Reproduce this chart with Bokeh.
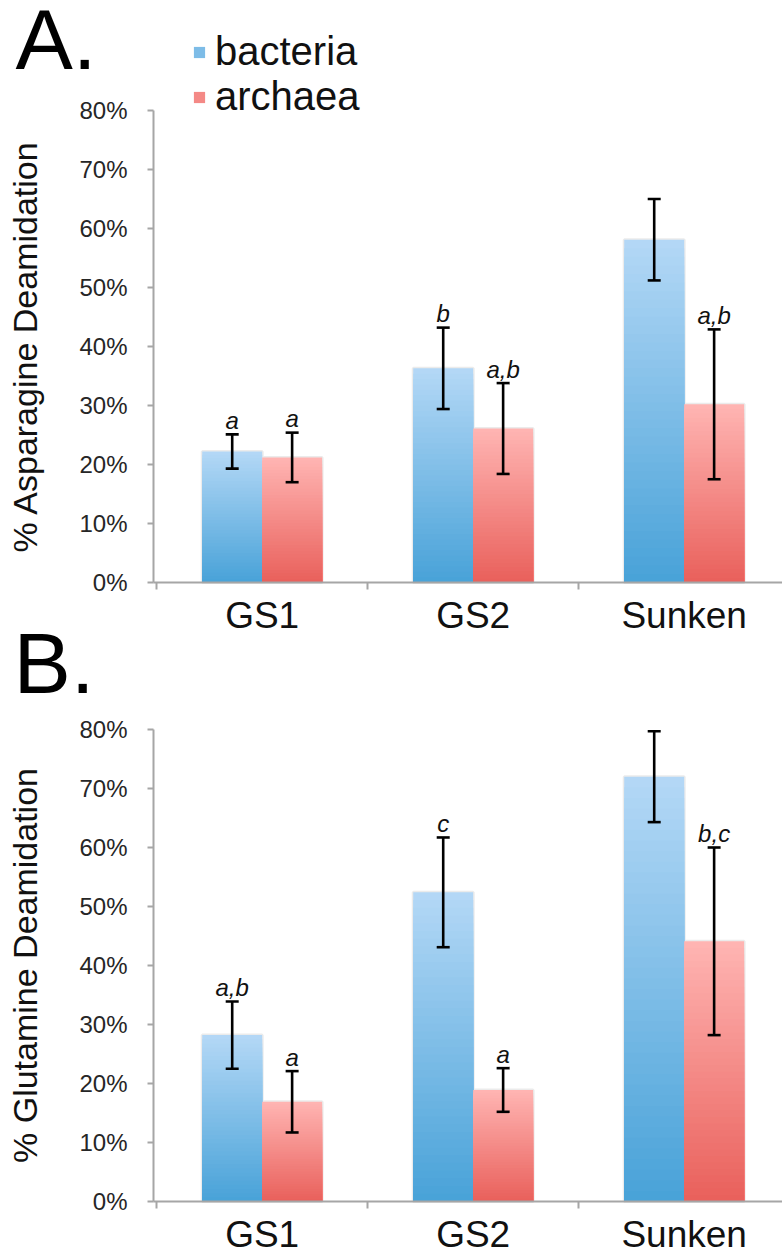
from bokeh.plotting import figure
from bokeh.models import (Range1d, FixedTicker, PrintfTickFormatter, Whisker, TeeHead,
                          ColumnDataSource, Label, Legend, LegendItem)
from bokeh.layouts import column
from bokeh.core.properties import value
from bokeh.embed import file_html
from bokeh.resources import INLINE

# ---------------- data ----------------
categories = ["GS1", "GS2", "Sunken"]
y_ticks = [0, 10, 20, 30, 40, 50, 60, 70, 80]

asn_bacteria = [22.2, 36.3, 58.1]
asn_bacteria_err = [2.9, 6.9, 6.9]
asn_archaea = [21.2, 26.1, 30.2]
asn_archaea_err = [4.2, 7.7, 12.7]
asn_bacteria_sig = ["a", "b", ""]
asn_archaea_sig = ["a", "a,b", "a,b"]

gln_bacteria = [28.2, 52.4, 72.0]
gln_bacteria_err = [5.7, 9.3, 7.7]
gln_archaea = [16.9, 18.9, 44.1]
gln_archaea_err = [5.2, 3.7, 15.9]
gln_bacteria_sig = ["a,b", "c", ""]
gln_archaea_sig = ["a", "a", "b,c"]

# ---------------- style / layout ----------------
FONT = "Liberation Sans"
BACT_TOP, BACT_BOT = (180, 216, 246), (72, 162, 216)
ARCH_TOP, ARCH_BOT = (255, 181, 179), (233, 96, 91)
AXIS_COLOR = "#a6a6a6"
BAR_W = 0.284
N_SLICES = 40
X0 = -0.015          # data x at the y axis
AXIS_PX = 153        # pixel x of the y axis
UNIT_PX = 211.0      # pixels per category
WIDTH = 782
LABEL_FIX = 33       # baseline correction for the big panel letters


def hexcol(c):
    return "#%02x%02x%02x" % tuple(int(round(v)) for v in c)


def lerp(a, b, t):
    return tuple(a[i] + (b[i] - a[i]) * t for i in range(3))


def bar_source(xs, vals, top_c, bot_c):
    left, right, top, bottom, color = [], [], [], [], []
    for x, v in zip(xs, vals):
        for k in range(N_SLICES):
            frac = (N_SLICES - k) / N_SLICES
            t = (N_SLICES - k - 0.5) / N_SLICES  # 0 bottom -> 1 top
            left.append(x - BAR_W / 2)
            right.append(x + BAR_W / 2)
            bottom.append(0)
            top.append(v * frac)
            color.append(hexcol(lerp(bot_c, top_c, t)))
    return ColumnDataSource(dict(left=left, right=right, top=top, bottom=bottom, color=color))


def make_panel(letters, ylabel, bact, bact_err, arch, arch_err, bact_sig, arch_sig,
               height, top80_px, zero_px, legend_px=None):
    px_per_unit = (zero_px - top80_px) / 80.0
    y_start = -(height - zero_px) / px_per_unit
    y_end = 80 + top80_px / px_per_unit
    x_start = X0 - AXIS_PX / UNIT_PX
    x_end = x_start + WIDTH / UNIT_PX

    p = figure(width=WIDTH, height=height, output_backend="svg", toolbar_location=None,
               x_range=Range1d(x_start, x_end), y_range=Range1d(y_start, y_end),
               min_border_left=0, min_border_right=0, min_border_top=0, min_border_bottom=0)
    p.outline_line_color = None
    p.xgrid.visible = False
    p.ygrid.visible = False
    p.background_fill_color = "white"
    p.border_fill_color = "white"

    centers = [i + 0.5 for i in range(len(categories))]
    bx = [c - BAR_W / 2 for c in centers]
    ax = [c + BAR_W / 2 for c in centers]

    # faint halo behind bars
    halo = ColumnDataSource(dict(left=[x - BAR_W / 2 for x in bx + ax],
                                 right=[x + BAR_W / 2 for x in bx + ax],
                                 top=list(bact) + list(arch)))
    p.quad(left="left", right="right", top="top", bottom=0, source=halo,
           fill_color=None, line_color="#ebebeb", line_width=3)

    sb = bar_source(bx, bact, BACT_TOP, BACT_BOT)
    sa = bar_source(ax, arch, ARCH_TOP, ARCH_BOT)
    rb = p.quad(left="left", right="right", top="top", bottom="bottom", source=sb,
                fill_color="color", line_color=None)
    ra = p.quad(left="left", right="right", top="top", bottom="bottom", source=sa,
                fill_color="color", line_color=None)

    err = ColumnDataSource(dict(
        x=bx + ax,
        upper=[v + e for v, e in zip(list(bact) + list(arch), list(bact_err) + list(arch_err))],
        lower=[v - e for v, e in zip(list(bact) + list(arch), list(bact_err) + list(arch_err))],
        sig=list(bact_sig) + list(arch_sig)))
    wh = Whisker(base="x", upper="upper", lower="lower", source=err, level="overlay",
                 line_color="black", line_width=2.6,
                 upper_head=TeeHead(size=13, line_width=2.6, line_color="black"),
                 lower_head=TeeHead(size=13, line_width=2.6, line_color="black"))
    p.add_layout(wh)

    p.text(x="x", y="upper", text="sig", source=err, text_font=value(FONT),
           text_font_style="italic", text_font_size="24px", text_color="#111111",
           text_align="center", text_baseline="alphabetic", y_offset=-14)

    # y axis, drawn at the first category boundary
    ya = p.yaxis[0]
    ya.fixed_location = X0
    ya.bounds = (0, 80)
    ya.ticker = FixedTicker(ticks=y_ticks)
    ya.formatter = PrintfTickFormatter(format="%d%%")
    ya.axis_label = ylabel
    ya.axis_label_text_font = FONT
    ya.axis_label_text_font_style = "normal"
    ya.axis_label_text_font_size = "34px"
    ya.axis_label_text_color = "#111111"
    ya.axis_label_standoff = 32
    ya.major_label_text_font = FONT
    ya.major_label_text_font_size = "24px"
    ya.major_label_text_color = "#262626"
    ya.major_label_standoff = 20
    ya.axis_line_color = AXIS_COLOR
    ya.axis_line_width = 2
    ya.major_tick_line_color = AXIS_COLOR
    ya.major_tick_line_width = 2
    ya.major_tick_in = 0
    ya.major_tick_out = 6
    ya.minor_tick_line_color = None

    # x axis, drawn at y = 0
    xa = p.xaxis[0]
    xa.fixed_location = 0
    xa.bounds = (X0, x_end)
    xa.ticker = FixedTicker(ticks=centers, minor_ticks=[0, 1, 2, 3])
    xa.major_label_overrides = {c: name for c, name in zip(centers, categories)}
    xa.major_label_text_font = FONT
    xa.major_label_text_font_size = "37px"
    xa.major_label_text_color = "#111111"
    xa.major_label_standoff = 5
    xa.axis_line_color = AXIS_COLOR
    xa.axis_line_width = 2
    xa.major_tick_line_color = None
    xa.major_tick_in = 0
    xa.major_tick_out = 0
    xa.minor_tick_line_color = AXIS_COLOR
    xa.minor_tick_line_width = 2
    xa.minor_tick_in = 0
    xa.minor_tick_out = 7

    # panel letters (pixel position -> screen units relative to the frame, y up)
    for text, lx, lbase in letters:
        p.add_layout(Label(x=lx, y=height - lbase + LABEL_FIX,
                           x_units="screen", y_units="screen",
                           text=text, text_font=FONT, text_font_size="86px",
                           text_color="black", text_baseline="alphabetic", level="overlay"))

    if legend_px is not None:
        mid = N_SLICES // 2
        leg = Legend(items=[LegendItem(label="bacteria", renderers=[rb], index=mid),
                            LegendItem(label="archaea", renderers=[ra], index=mid)],
                     location=(legend_px[0], height - legend_px[1]), orientation="vertical",
                     label_text_font=FONT, label_text_font_size="40px",
                     label_text_color="#111111",
                     glyph_width=14, glyph_height=14, label_standoff=9,
                     padding=0, margin=0, spacing=0,
                     border_line_color=None, background_fill_alpha=0)
        p.add_layout(leg, "center")
    return p


H_A = 714
pA = make_panel([("A.", 15, 71), ("B.", 13, 695)], "% Asparagine Deamidation",
                asn_bacteria, asn_bacteria_err, asn_archaea, asn_archaea_err,
                asn_bacteria_sig, asn_archaea_sig,
                height=H_A, top80_px=110, zero_px=582, legend_px=(192, 119))
pB = make_panel([], "% Glutamine Deamidation",
                gln_bacteria, gln_bacteria_err, gln_archaea, gln_archaea_err,
                gln_bacteria_sig, gln_archaea_sig,
                height=1256 - H_A, top80_px=729 - H_A, zero_px=1201 - H_A)

layout = column(pA, pB, spacing=0)
open("out.html", "w").write(file_html(layout, INLINE))
